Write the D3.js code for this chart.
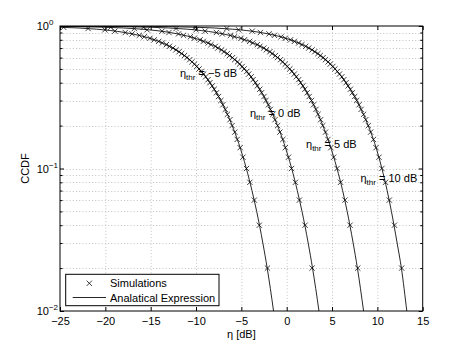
<!DOCTYPE html>
<html>
<head>
<meta charset="utf-8">
<script src="https://cdn.jsdelivr.net/npm/d3@7"></script>
<style>
  body { margin: 0; background: #fff; }
  svg text { font-family: "Liberation Sans", Arial, sans-serif; fill: #000; }
</style>
</head>
<body>
<script>
// CCDF levels at which the simulated curves were sampled
const simLevels = [0.02, 0.04, 0.06, 0.08, 0.10, 0.12, 0.14, 0.16, 0.18, 0.20,
  0.22, 0.24, 0.26, 0.28, 0.30, 0.32, 0.34, 0.36, 0.38, 0.40,
  0.42, 0.44, 0.46, 0.48, 0.50, 0.52, 0.54, 0.56, 0.58, 0.60,
  0.62, 0.64, 0.66, 0.68, 0.70, 0.72, 0.74, 0.76, 0.78, 0.80,
  0.82, 0.84, 0.86, 0.88, 0.90, 0.92, 0.94, 0.96, 0.98];

// eta [dB] of the simulation markers, one array per threshold
const simEtaM5 = [-2.12, -3.02, -3.57, -4.06, -4.43, -4.83, -5.13, -5.46, -5.72, -6.02,
  -6.26, -6.54, -6.77, -7.04, -7.26, -7.52, -7.74, -7.99, -8.21, -8.47,
  -8.68, -8.94, -9.16, -9.43, -9.66, -9.93, -10.17, -10.45, -10.70, -11.00,
  -11.27, -11.59, -11.87, -12.22, -12.54, -12.93, -13.27, -13.72, -14.11, -14.62,
  -15.08, -15.71, -16.25, -17.05, -17.80, -18.95, -20.05, -21.90, -24.60];
const simEta0 = [2.80, 2.03, 1.40, 0.96, 0.53, 0.20, -0.15, -0.42, -0.75, -1.00,
  -1.29, -1.52, -1.80, -2.01, -2.29, -2.50, -2.77, -2.97, -3.24, -3.45,
  -3.71, -3.92, -4.19, -4.40, -4.69, -4.90, -5.20, -5.42, -5.74, -5.97,
  -6.31, -6.55, -6.92, -7.18, -7.60, -7.87, -8.35, -8.66, -9.20, -9.55,
  -10.18, -10.62, -11.38, -11.93, -12.98, -13.75, -15.40, -16.80, -19.40];
const simEta5 = [7.84, 6.99, 6.43, 5.94, 5.56, 5.18, 4.87, 4.55, 4.28, 3.98,
  3.74, 3.46, 3.23, 2.96, 2.74, 2.48, 2.26, 2.01, 1.79, 1.53,
  1.32, 1.06, 0.84, 0.57, 0.35, 0.06, -0.16, -0.46, -0.68, -1.02,
  -1.25, -1.61, -1.85, -2.25, -2.52, -2.95, -3.24, -3.75, -4.08, -4.66,
  -5.04, -5.75, -6.20, -7.10, -7.75, -9.00, -10.00, -12.20, -15.80];
const simEta10 = [12.68, 11.88, 11.32, 10.90, 10.50, 10.18, 9.85, 9.57, 9.26, 9.00,
  8.72, 8.48, 8.21, 7.98, 7.72, 7.50, 7.24, 7.03, 6.77, 6.55,
  6.30, 6.08, 5.82, 5.59, 5.32, 5.09, 4.80, 4.57, 4.27, 4.02,
  3.70, 3.44, 3.10, 2.80, 2.43, 2.10, 1.68, 1.32, 0.85, 0.43,
  -0.15, -0.62, -1.35, -1.95, -2.90, -3.80, -5.30, -6.60, -10.10];

// analytical expression, read at these CCDF levels
const anaLevels = [0.9995, 0.999, 0.995, 0.99, 0.98, 0.95, 0.9, 0.85, 0.8, 0.7, 0.6, 0.5,
  0.4, 0.3, 0.2, 0.15, 0.1, 0.07, 0.05, 0.03, 0.02, 0.01, 0.005];
const anaEtaM5 = [-41.08, -38.07, -31.07, -28.05, -25.02, -20.97, -17.85, -15.97, -14.59, -12.55, -10.99, -9.67,
  -8.46, -7.27, -6.01, -5.29, -4.45, -3.83, -3.31, -2.63, -2.15, -1.45, -0.85];
const anaEta0 = [-36.08, -33.07, -26.07, -23.05, -20.02, -15.97, -12.85, -10.97, -9.59, -7.55, -5.99, -4.67,
  -3.46, -2.27, -1.01, -0.29, 0.55, 1.17, 1.69, 2.37, 2.85, 3.56, 4.17];
const anaEta5 = [-31.08, -28.07, -21.07, -18.05, -15.02, -10.97, -7.85, -5.97, -4.59, -2.55, -0.99, 0.33,
  1.54, 2.73, 3.99, 4.71, 5.55, 6.17, 6.67, 7.33, 7.80, 8.48, 9.10];
const anaEta10 = [-26.08, -23.07, -16.07, -13.05, -10.02, -5.97, -2.85, -0.97, 0.41, 2.45, 4.01, 5.33,
  6.54, 7.73, 8.99, 9.71, 10.50, 11.08, 11.55, 12.18, 12.65, 13.25, 13.85];

const thresholds = ["\u22125", "0", "5", "10"];
// where each threshold label starts (eta dB, CCDF)
const labelEta = [-11.77, -4.05, 2.13, 8.14];
const labelCcdf = [0.442, 0.231, 0.1386, 0.0808];

const xTicks = [-25, -20, -15, -10, -5, 0, 5, 10, 15];
const yMajor = [0.01, 0.1, 1];
const yExp = ["\u22122", "\u22121", "0"];

const width = 466, height = 350;
const x = d3.scaleLinear().domain([-25, 15]).range([60, 422.7]);
const y = d3.scaleLog().domain([0.01, 1]).range([311, 26]);
const [x0, x1] = x.range(), [y0, y1] = y.range();

const svg = d3.select("body").append("svg").attr("width", width).attr("height", height);
svg.append("rect").attr("width", width).attr("height", height).attr("fill", "#fff");

svg.append("clipPath").attr("id", "plot")
  .append("rect").attr("x", x0).attr("y", y1).attr("width", x1 - x0).attr("height", y0 - y1);

// dotted grid
const grid = svg.append("g").attr("stroke", "#b4b4b4").attr("stroke-width", 0.8).attr("stroke-dasharray", "1,2.2");
grid.selectAll(".gx").data(xTicks.slice(1, -1)).enter().append("line")
  .attr("x1", d => x(d) + 0.5).attr("x2", d => x(d) + 0.5).attr("y1", y1).attr("y2", y0);
grid.selectAll(".gy").data(y.ticks().filter(d => d > 0.01 && d < 1)).enter().append("line")
  .attr("y1", d => Math.round(y(d)) + 0.5).attr("y2", d => Math.round(y(d)) + 0.5).attr("x1", x0).attr("x2", x1);

// axes, ticks pointing inward
function styleAxis(g) {
  g.attr("font-family", null).attr("font-size", 11);
  g.select(".domain").remove();
  g.selectAll("line").attr("stroke", "#000");
}
svg.append("g").attr("transform", `translate(0,${y0})`)
  .call(d3.axisBottom(x).tickValues(xTicks).tickSize(-4).tickPadding(6.5)).call(styleAxis);
svg.append("g").attr("transform", `translate(0,${y1})`)
  .call(d3.axisTop(x).tickValues(xTicks).tickSize(-4).tickFormat("")).call(styleAxis);
const yMinor = y.ticks().filter(d => !yMajor.includes(d));
svg.append("g").attr("transform", `translate(${x0},0)`)
  .call(d3.axisLeft(y).tickValues(yMinor).tickSize(-2.5).tickFormat("")).call(styleAxis);
svg.append("g").attr("transform", `translate(${x0},0)`)
  .call(d3.axisLeft(y).tickValues(yMajor).tickSize(-4).tickFormat("")).call(styleAxis);
svg.append("g").attr("transform", `translate(${x1},0)`)
  .call(d3.axisRight(y).tickValues(yMinor).tickSize(-2.5).tickFormat("")).call(styleAxis);
svg.append("g").attr("transform", `translate(${x1},0)`)
  .call(d3.axisRight(y).tickValues(yMajor).tickSize(-4).tickFormat("")).call(styleAxis);

// y tick labels 10^n
const yl = svg.append("g").attr("font-size", 11);
yMajor.forEach((v, i) => {
  const t = yl.append("text").attr("x", 36.7).attr("y", y(v) + 4);
  t.append("tspan").text("10");
  t.append("tspan").attr("font-size", 8).attr("dy", -5).text(yExp[i]);
});

svg.append("rect").attr("x", x0).attr("y", y1).attr("width", x1 - x0).attr("height", y0 - y1)
  .attr("fill", "none").attr("stroke", "#000").attr("stroke-width", 1);

// curves
const line = d3.line().x(d => x(d[0])).y(d => y(d[1])).curve(d3.curveMonotoneX);
const anaSeries = [anaEtaM5, anaEta0, anaEta5, anaEta10];
const simSeries = [simEtaM5, simEta0, simEta5, simEta10];

const curves = svg.append("g").attr("clip-path", "url(#plot)");
curves.selectAll("path.ana").data(anaSeries).enter().append("path")
  .attr("class", "ana")
  .attr("d", s => line(s.map((e, i) => [e, anaLevels[i]])))
  .attr("fill", "none").attr("stroke", "#000").attr("stroke-width", 0.85);

const cross = {
  draw(ctx, size) {
    const r = Math.sqrt(size) / 2;
    ctx.moveTo(-r, -r); ctx.lineTo(r, r);
    ctx.moveTo(-r, r); ctx.lineTo(r, -r);
  }
};
const marker = d3.symbol().type(cross).size(28);
const simPts = simSeries.flatMap(s => s.map((e, i) => [e, simLevels[i]]));
curves.selectAll("path.sim").data(simPts).enter().append("path")
  .attr("class", "sim")
  .attr("transform", d => `translate(${x(d[0])},${y(d[1])})`)
  .attr("d", marker)
  .attr("fill", "none").attr("stroke", "#000").attr("stroke-width", 0.75);

// threshold labels
thresholds.forEach((th, i) => {
  const t = svg.append("text").attr("font-size", 11)
    .attr("x", x(labelEta[i])).attr("y", y(labelCcdf[i]));
  t.append("tspan").text("\u03b7");
  t.append("tspan").attr("font-size", 8).attr("dy", 3).text("thr");
  t.append("tspan").attr("dy", -3).text(" = " + th + " dB");
});

// axis titles
svg.append("text").attr("font-size", 11).attr("text-anchor", "middle")
  .attr("x", (x0 + x1) / 2).attr("y", 338).text("\u03b7 [dB]");
svg.append("text").attr("font-size", 11).attr("text-anchor", "middle")
  .attr("transform", `translate(29,${(y0 + y1) / 2}) rotate(-90)`).text("CCDF");

// legend
const lg = svg.append("g");
lg.append("rect").attr("x", 65.7).attr("y", 274.3).attr("width", 153.3).attr("height", 31.4)
  .attr("fill", "#fff").attr("stroke", "#000").attr("stroke-width", 1);
lg.append("path").attr("transform", "translate(89.3,283.3)").attr("d", marker)
  .attr("fill", "none").attr("stroke", "#000").attr("stroke-width", 0.75);
lg.append("text").attr("font-size", 11).attr("x", 110).attr("y", 287).text("Simulations");
lg.append("line").attr("x1", 72.7).attr("x2", 106).attr("y1", 297.5).attr("y2", 297.5)
  .attr("stroke", "#000").attr("stroke-width", 0.85);
lg.append("text").attr("font-size", 11).attr("x", 110).attr("y", 301.5).text("Analatical Expression");
</script>
</body>
</html>
